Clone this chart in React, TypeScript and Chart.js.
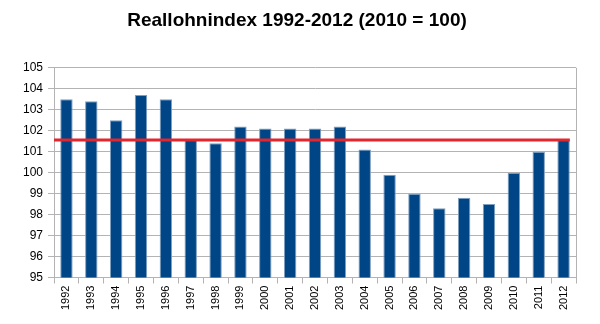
import React, { useEffect, useRef } from "react";
import { Chart, registerables } from "chart.js";

Chart.register(...registerables);

const years = ["1992","1993","1994","1995","1996","1997","1998","1999","2000","2001","2002","2003","2004","2005","2006","2007","2008","2009","2010","2011","2012"];
const values = [103.5,103.4,102.5,103.7,103.5,101.6,101.4,102.2,102.1,102.1,102.1,102.2,101.1,99.9,99.0,98.3,98.8,98.5,100.0,101.0,101.6];
const averageLevel = 101.56;
const titleText = "Reallohnindex 1992-2012 (2010 = 100)";

const refLinePlugin = {
  id: "refLine",
  afterDatasetsDraw(chart: any) {
    const { ctx, chartArea, scales } = chart;
    const y = scales.y.getPixelForValue(averageLevel);
    const meta = chart.getDatasetMeta(0);
    const last = meta.data[meta.data.length - 1];
    const xEnd = last.x + last.width / 2;
    ctx.save();
    ctx.strokeStyle = "#e3262e";
    ctx.lineWidth = 3;
    ctx.beginPath();
    ctx.moveTo(chartArea.left, y);
    ctx.lineTo(xEnd, y);
    ctx.stroke();
    ctx.restore();
  },
};

const borderPlugin = {
  id: "areaBorder",
  beforeDatasetsDraw(chart: any) {
    const { ctx, chartArea } = chart;
    ctx.save();
    ctx.strokeStyle = "#b3b3b3";
    ctx.lineWidth = 1;
    ctx.beginPath();
    ctx.moveTo(Math.round(chartArea.right) + 0.5, chartArea.top);
    ctx.lineTo(Math.round(chartArea.right) + 0.5, chartArea.bottom);
    ctx.stroke();
    ctx.restore();
  },
};

export default function App() {
  const ref = useRef<HTMLCanvasElement>(null);
  useEffect(() => {
    const chart = new Chart(ref.current!, {
      type: "bar",
      data: {
        labels: years,
        datasets: [
          {
            data: values,
            backgroundColor: "#004586",
            borderColor: "#7f9fc0",
            borderWidth: 1,
            barPercentage: 0.5,
            categoryPercentage: 1,
          },
        ],
      },
      options: {
        animation: false,
        responsive: false,
        layout: { padding: { left: 18, right: 24, top: 6, bottom: 12 } },
        plugins: {
          legend: { display: false },
          tooltip: { enabled: false },
          title: {
            display: true,
            text: titleText,
            color: "#000",
            font: { family: "'Liberation Sans', Arial, sans-serif", size: 19, weight: "bold" },
            padding: { top: 3, bottom: 36 },
          },
        },
        scales: {
          x: {
            grid: { drawOnChartArea: false, color: "#b3b3b3", tickLength: 6, offset: true },
            border: { color: "#b3b3b3" },
            ticks: {
              minRotation: 90,
              maxRotation: 90,
              color: "#000",
              padding: 2,
              font: { family: "'Liberation Sans', Arial, sans-serif", size: 11 },
            },
          },
          y: {
            min: 95,
            max: 105,
            ticks: {
              stepSize: 1,
              color: "#000",
              padding: 5,
              font: { family: "'Liberation Sans', Arial, sans-serif", size: 12 },
            },
            grid: { color: "#b3b3b3", tickLength: 6 },
            border: { color: "#b3b3b3" },
          },
        },
      },
      plugins: [borderPlugin, refLinePlugin],
    });
    return () => chart.destroy();
  }, []);
  return (
    <div style={{ position: "fixed", left: 0, top: 0, width: 600, height: 324, background: "#fff" }}>
      <canvas ref={ref} width={600} height={324} />
    </div>
  );
}
